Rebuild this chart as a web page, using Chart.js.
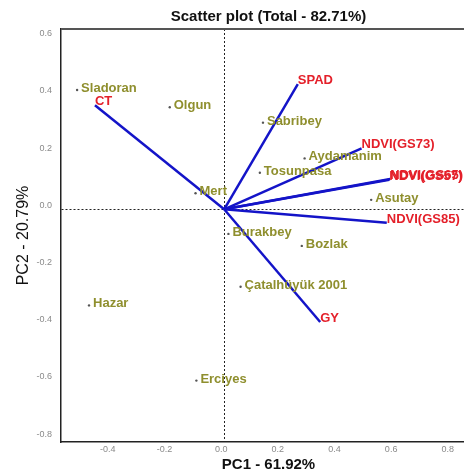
<!DOCTYPE html>
<html>
<head>
<meta charset="utf-8">
<script src="https://cdn.jsdelivr.net/npm/chart.js@4"></script>
<style>
  html, body { margin: 0; padding: 0; overflow: hidden; background: #fff; }
  #wrap { width: 480px; height: 474px; }
</style>
</head>
<body>
<div id="wrap"><canvas id="myChart" width="480" height="474"></canvas></div>
<script>
// genotypes (points)
const genotypes = ['Sladoran', 'Olgun', 'Sabribey', 'Aydamanim', 'Tosunpasa', 'Mert',
    'Asutay', 'Burakbey', 'Bozlak', 'Çatalhüyük 2001', 'Hazar', 'Erciyes'];
const genoPC1 = [-0.519, -0.192, 0.137, 0.284, 0.126, -0.101, 0.519, 0.015, 0.274, 0.058, -0.477, -0.098];
const genoPC2 = [0.417, 0.357, 0.303, 0.178, 0.128, 0.056, 0.033, -0.086, -0.128, -0.271, -0.336, -0.599];

// traits (vectors)
const traits = ['CT', 'SPAD', 'NDVI(GS73)', 'NDVI(GS57)', 'NDVI(GS65)', 'NDVI(GS85)', 'GY'];
const traitPC1 = [-0.456, 0.260, 0.485, 0.583, 0.586, 0.574, 0.339];
const traitPC2 = [0.364, 0.438, 0.213, 0.103, 0.106, -0.047, -0.394];

const xTicks = [-0.4, -0.2, 0, 0.2, 0.4, 0.6, 0.8];
const yTicks = [-0.8, -0.6, -0.4, -0.2, 0, 0.2, 0.4, 0.6];

const labelFont = 'bold 13px "Liberation Sans", Arial, sans-serif';

let datasets = traits.map((t, i) => ({
    label: t,
    data: [{x: 0, y: 0}, {x: traitPC1[i], y: traitPC2[i]}],
    showLine: true,
    borderColor: '#1414c8',
    borderWidth: 2.5,
    pointRadius: 0
}));
datasets.push({
    label: 'genotypes',
    data: genotypes.map((g, i) => ({x: genoPC1[i], y: genoPC2[i]})),
    pointRadius: 1.2,
    pointBackgroundColor: '#555',
    pointBorderWidth: 0
});

const labelPlugin = {
    id: 'biplotLabels',
    afterDatasetsDraw(chart) {
        const ctx = chart.ctx;
        const xs = chart.scales.x, ys = chart.scales.y;
        ctx.save();
        ctx.font = labelFont;
        ctx.textAlign = 'left';
        ctx.textBaseline = 'alphabetic';
        ctx.fillStyle = '#8f8f2e';
        genotypes.forEach((g, i) => {
            ctx.fillText(g, xs.getPixelForValue(genoPC1[i]) + 4, ys.getPixelForValue(genoPC2[i]) + 2);
        });
        ctx.fillStyle = '#e4202a';
        traits.forEach((t, i) => {
            ctx.fillText(t, xs.getPixelForValue(traitPC1[i]), ys.getPixelForValue(traitPC2[i]));
        });
        ctx.restore();
    },
    afterDraw(chart) {
        const a = chart.chartArea;
        const ctx = chart.ctx;
        ctx.save();
        ctx.strokeStyle = '#555';
        ctx.lineWidth = 2;
        ctx.beginPath();
        ctx.moveTo(a.left, a.top);
        ctx.lineTo(a.right, a.top);
        ctx.stroke();
        ctx.restore();
    }
};

const zeroLine = c => (c.tick && c.tick.value === 0) ? '#222' : 'rgba(0,0,0,0)';

let ctx = document.getElementById('myChart').getContext('2d');
let myChart = new Chart(ctx, {
    type: 'scatter',
    data: { datasets: datasets },
    plugins: [labelPlugin],
    options: {
        responsive: false,
        animation: false,
        layout: { padding: 0 },
        plugins: {
            legend: { display: false },
            tooltip: { enabled: false },
            title: {
                display: true,
                text: 'Scatter plot (Total - 82.71%)',
                fullSize: false,
                color: '#111',
                font: { family: '"Liberation Sans", Arial, sans-serif', size: 15, weight: 'bold' },
                padding: { top: 8, bottom: 3 }
            }
        },
        scales: {
            x: {
                type: 'linear',
                min: -0.5759,
                max: 0.889,
                afterBuildTicks: s => { s.ticks = xTicks.map(v => ({value: v})); },
                afterFit: s => { s.height = 32; },
                ticks: {
                    callback: v => v.toFixed(1),
                    color: '#8a8a8a',
                    font: { family: '"Liberation Sans", Arial, sans-serif', size: 9 },
                    padding: 2,
                    labelOffset: -3,
                    maxRotation: 0
                },
                grid: { color: zeroLine, lineWidth: 1, drawTicks: false },
                border: { color: '#222', width: 1.5, dash: [2, 2] },
                title: {
                    display: true,
                    text: 'PC1 - 61.92%',
                    color: '#111',
                    font: { family: '"Liberation Sans", Arial, sans-serif', size: 15, weight: 'bold' },
                    padding: { top: 0, bottom: 0 }
                }
            },
            y: {
                type: 'linear',
                min: -0.8136,
                max: 0.6304,
                afterBuildTicks: s => { s.ticks = yTicks.map(v => ({value: v})); },
                afterFit: s => { s.width = 61; },
                ticks: {
                    callback: v => v.toFixed(1),
                    color: '#8a8a8a',
                    font: { family: '"Liberation Sans", Arial, sans-serif', size: 9 },
                    padding: 9,
                    labelOffset: -4
                },
                grid: { color: zeroLine, lineWidth: 1, drawTicks: false },
                border: { color: '#222', width: 1.5, dash: [2, 2] },
                title: {
                    display: true,
                    text: 'PC2 - 20.79%',
                    color: '#111',
                    font: { family: '"Liberation Sans", Arial, sans-serif', size: 16 },
                    padding: { top: 14, bottom: 0 }
                }
            }
        }
    }
});
</script>
</body>
</html>
